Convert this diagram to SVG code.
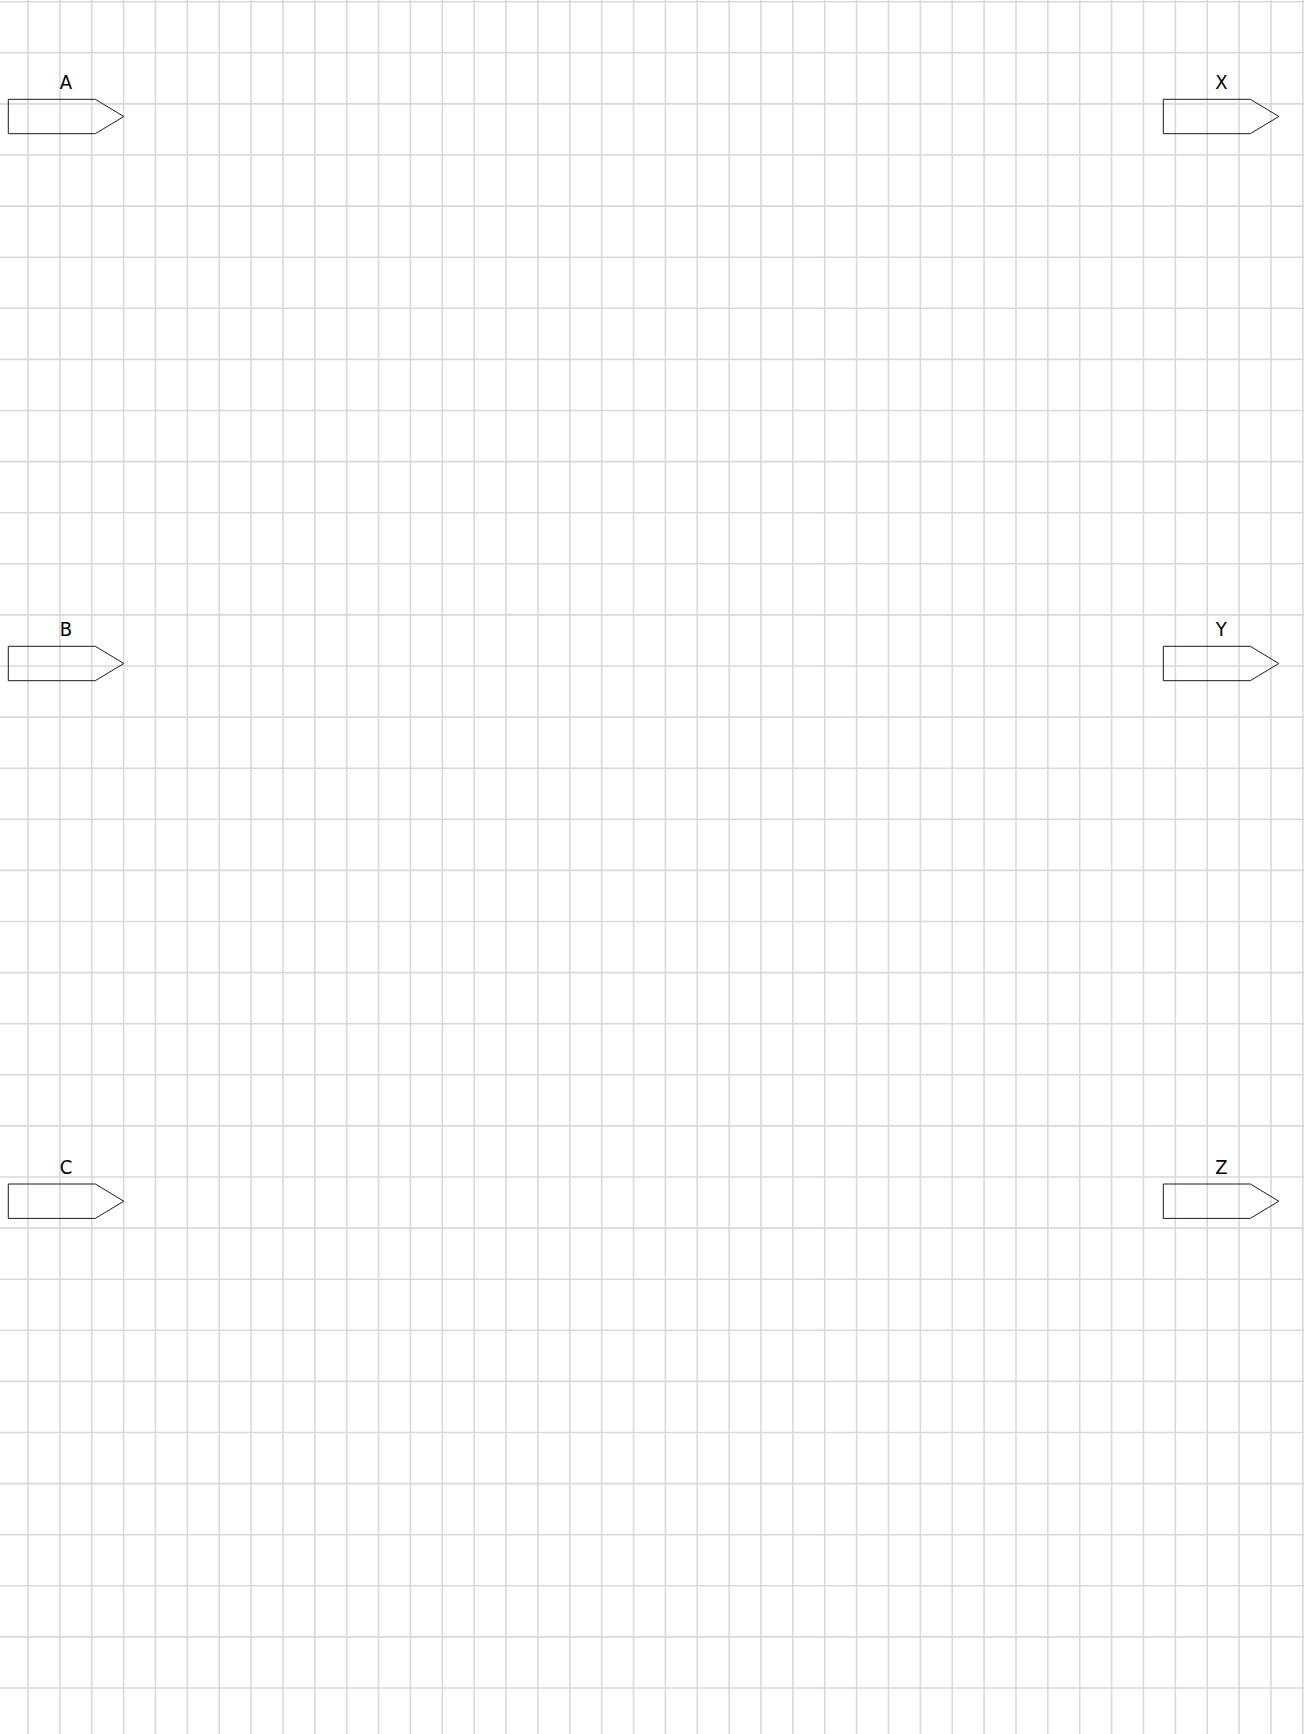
<svg xmlns="http://www.w3.org/2000/svg" xmlns:xlink="http://www.w3.org/1999/xlink" width="1304" height="1734" viewBox="0 0 1304 1734">
<style>
.grid{fill:none;stroke:#d9d9d9;stroke-width:1.6}
.tag{fill:none;stroke:#1a1a1a;stroke-width:1}
.lbl{font-family:"Liberation Sans Narrow","DejaVu Sans Condensed","Liberation Sans",sans-serif;font-size:20px;fill:#000;text-anchor:middle}
</style>
<defs>
<path id="tagshape" class="tag" d="M0,0 H87 L115.5,17.2 L87,34.4 H0 Z"/>
</defs>
<rect width="1304" height="1734" fill="#fff"/>
<g id="grid">
<path class="grid" d="M28,0V1734M59.87,0V1734M91.74,0V1734M123.61,0V1734M155.48,0V1734M187.35,0V1734M219.22,0V1734M251.09,0V1734M282.96,0V1734M314.83,0V1734M346.7,0V1734M378.57,0V1734M410.44,0V1734M442.31,0V1734M474.18,0V1734M506.05,0V1734M537.92,0V1734M569.79,0V1734M601.66,0V1734M633.53,0V1734M665.4,0V1734M697.27,0V1734M729.14,0V1734M761.01,0V1734M792.88,0V1734M824.75,0V1734M856.62,0V1734M888.49,0V1734M920.36,0V1734M952.23,0V1734M984.1,0V1734M1015.97,0V1734M1047.84,0V1734M1079.71,0V1734M1111.58,0V1734M1143.45,0V1734M1175.32,0V1734M1207.19,0V1734M1239.06,0V1734M1270.93,0V1734M1302.8,0V1734"/>
<path class="grid" d="M0,1.7H1304M0,52.8H1304M0,103.9H1304M0,155H1304M0,206.1H1304M0,257.2H1304M0,308.3H1304M0,359.4H1304M0,410.5H1304M0,461.6H1304M0,512.7H1304M0,563.8H1304M0,614.9H1304M0,666H1304M0,717.1H1304M0,768.2H1304M0,819.3H1304M0,870.4H1304M0,921.5H1304M0,972.6H1304M0,1023.7H1304M0,1074.8H1304M0,1125.9H1304M0,1177H1304M0,1228.1H1304M0,1279.2H1304M0,1330.3H1304M0,1381.4H1304M0,1432.5H1304M0,1483.6H1304M0,1534.7H1304M0,1585.8H1304M0,1636.9H1304M0,1688H1304"/>
</g>
<g id="connectors"></g>
<g id="node-A"><use xlink:href="#tagshape" x="8.3" y="99.3"/><text class="lbl" x="66" y="89">A</text></g>
<g id="node-B"><use xlink:href="#tagshape" x="8.3" y="646.3"/><text class="lbl" x="66" y="635.5">B</text></g>
<g id="node-C"><use xlink:href="#tagshape" x="8.3" y="1184"/><text class="lbl" x="66" y="1173.5">C</text></g>
<g id="node-X"><use xlink:href="#tagshape" x="1163.3" y="99.3"/><text class="lbl" x="1221.3" y="88.5">X</text></g>
<g id="node-Y"><use xlink:href="#tagshape" x="1163.3" y="646.3"/><text class="lbl" x="1221.3" y="635.5">Y</text></g>
<g id="node-Z"><use xlink:href="#tagshape" x="1163.3" y="1184"/><text class="lbl" x="1221.3" y="1173.5">Z</text></g>
</svg>
